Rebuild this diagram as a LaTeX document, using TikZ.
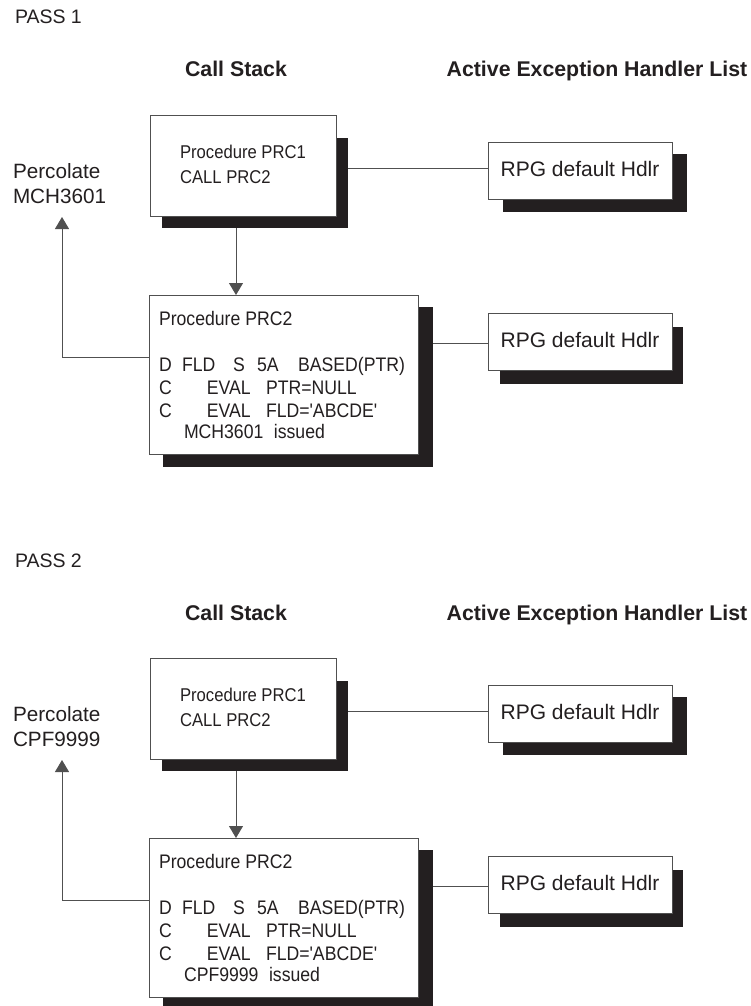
\documentclass[tikz,border=0pt]{standalone}
\usepackage{fontspec}
\setmainfont{Liberation Sans}
\usetikzlibrary{arrows.meta}
\definecolor{ink}{RGB}{35,31,32}
\definecolor{linec}{RGB}{80,80,80}
\newcommand\fs[2]{\fontsize{#1}{#2}\selectfont}
\newcommand\cond[1]{\scalebox{0.9}[1]{#1}}
\tikzset{
  shade/.style={fill=ink, draw=none, inner sep=0pt, outer sep=0pt, anchor=north west},
  box/.style={fill=white, draw=linec, line width=0.9pt, inner sep=0pt, outer sep=0pt, anchor=north west, text=ink},
  hdlr/.style={box, minimum width=184pt, minimum height=57pt, font=\fs{21}{25}, text height=14.5pt, text depth=3.5pt},
  conn/.style={draw=linec, line width=0.9pt},
  arr/.style={conn, -{Triangle[width=14pt,length=12pt]}},
  txt/.style={inner sep=0pt, outer sep=0pt, text=ink},
  head/.style={txt, anchor=base, font=\bfseries\fs{21.3}{25}},
}
\begin{document}
\begin{tikzpicture}[x=1pt,y=-1pt]
\fill[white] (0,0) rectangle (750,1006);
\useasboundingbox (0,0) rectangle (750,1006);
\foreach \off/\n/\code in {0/1/MCH3601,543/2/CPF9999}{
\begin{scope}[shift={(0,\off)}]
 \node[txt, anchor=base west, font=\fs{19.5}{23}] (pass\n) at (15,24) {PASS \n};
 \node[head] (cs\n) at (236,77) {Call Stack};
 \node[head] (ae\n) at (597,77) {Active Exception Handler List};
 % PRC1
 \node[shade, minimum width=186pt, minimum height=90pt] (s1\n) at (162,138) {};
 \node[box, minimum width=186pt, minimum height=101pt, font=\fs{18.5}{25}] (a\n) at (150,115)
   {\cond{\begin{tabular}{@{}l@{}}Procedure PRC1\\CALL PRC2\end{tabular}}};
 % PRC2
 \node[shade, minimum width=270pt, minimum height=160pt] (s2\n) at (163,307) {};
 \node[box, minimum width=269pt, minimum height=159pt] (b\n) at (149,295) {};
 \node[txt, anchor=base west, font=\fs{19.6}{23}] (bt\n) at (159,325) {\cond{\begin{tabular}[t]{@{}l@{}}
   Procedure PRC2\\
   \\
   \makebox[25.6pt][l]{D}\makebox[56.7pt][l]{FLD}\makebox[26.7pt][l]{S}\makebox[45.6pt][l]{5A}BASED(PTR)\\
   \makebox[53.3pt][l]{C}\makebox[65.6pt][l]{EVAL}PTR=NULL\\
   \makebox[53.3pt][l]{C}\makebox[65.6pt][l]{EVAL}FLD=\textquotesingle ABCDE\textquotesingle\\[-2pt]
   \hspace*{27.8pt}\code\hspace{11.7pt}issued
 \end{tabular}}};
 % handlers
 \node[shade, minimum width=184pt, minimum height=58pt] (hs1\n) at (503,154) {};
 \node[hdlr] (h1\n) at (488,142) {RPG default Hdlr};
 \node[shade, minimum width=183pt, minimum height=57pt] (hs2\n) at (500,327) {};
 \node[hdlr] (h2\n) at (488,313) {RPG default Hdlr};
 % percolate
 \node[txt, anchor=base west, font=\fs{20.7}{25}] (perc\n) at (13,178) {\begin{tabular}[t]{@{}l@{}}Percolate\\\code\end{tabular}};
 % connectors
 \draw[conn] ([yshift=2.5pt]h1\n.west) -- ([yshift=2.5pt]h1\n.west -| s1\n.east);
 \draw[conn] ([yshift=-1.5pt]h2\n.west) -- ([yshift=-1.5pt]h2\n.west -| s2\n.east);
 \draw[arr] ([xshift=74pt]s1\n.south west) -- ([xshift=74pt]s1\n.south west |- b\n.north);
 \coordinate (t\n) at (62,217);
 \draw[arr] ([yshift=17.5pt]b\n.west) -| (t\n);
\end{scope}
}
\end{tikzpicture}
\end{document}
